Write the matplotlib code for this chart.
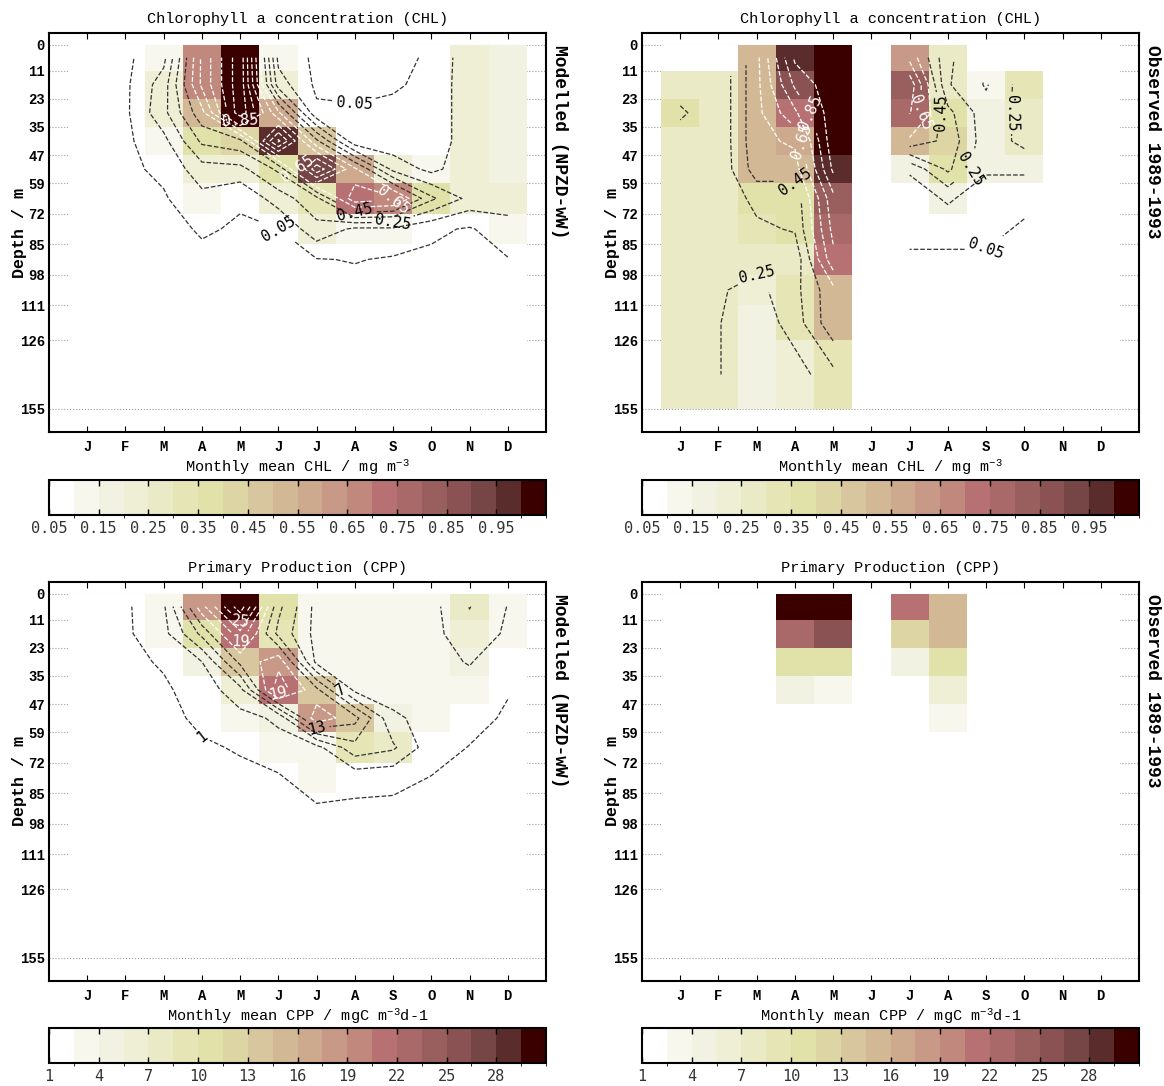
import numpy as np
import matplotlib
matplotlib.use("Agg")
import matplotlib.pyplot as plt
from matplotlib.colors import ListedColormap, BoundaryNorm, to_hex

plt.rcParams["font.family"] = ["Liberation Mono", "DejaVu Sans Mono"]
plt.rcParams["mathtext.default"] = "regular"

months = ["J", "F", "M", "A", "M", "J", "J", "A", "S", "O", "N", "D"]
depth_edges = [0, 11, 23, 35, 47, 59, 72, 85, 98, 111, 126, 155]
nan = np.nan

# colour steps (white -> cream -> olive -> tan -> rose -> maroon)
palette = ["#FFFFFF", "#F7F7EE", "#F2F2E3", "#EFEFD6", "#EAEAC6", "#E6E5B6", "#E1E1AA",
           "#DDD6A4", "#D8C79E", "#D3B896", "#CDA98E", "#C79986", "#C1897E", "#B77172",
           "#A96969", "#995F5E", "#8A5252", "#764545", "#5A2C2C", "#3A0000"]

chl_levels = np.round(np.arange(0.05, 1.0501, 0.05), 2)
chl_ticks = [0.05, 0.15, 0.25, 0.35, 0.45, 0.55, 0.65, 0.75, 0.85, 0.95]
cpp_levels = np.arange(1, 31.01, 1.5)
cpp_ticks = [1, 4, 7, 10, 13, 16, 19, 22, 25, 28]

# rows = depth layers (0-11, 11-23, ... 126-155), columns = months J..D
chl_model = [
    [0.01, 0.03, 0.12, 0.67, 1.02, 0.12, 0.03, 0.03, 0.03, 0.06, 0.22, 0.18],
    [0.01, 0.03, 0.20, 0.67, 1.02, 0.20, 0.03, 0.03, 0.04, 0.07, 0.22, 0.18],
    [0.01, 0.03, 0.22, 0.52, 1.02, 0.57, 0.07, 0.06, 0.07, 0.07, 0.22, 0.18],
    [0.01, 0.03, 0.12, 0.37, 0.42, 0.97, 0.47, 0.08, 0.08, 0.07, 0.22, 0.18],
    [0.01, 0.03, 0.07, 0.21, 0.22, 0.37, 0.92, 0.57, 0.22, 0.12, 0.22, 0.18],
    [0.01, 0.02, 0.04, 0.12, 0.06, 0.20, 0.32, 0.72, 0.68, 0.37, 0.22, 0.20],
    [0.01, 0.02, 0.02, 0.06, 0.04, 0.05, 0.22, 0.13, 0.13, 0.07, 0.04, 0.11],
    [0.01, 0.02, 0.02, 0.03, 0.02, 0.03, 0.045, 0.055, 0.04, 0.03, 0.02, 0.045],
    [0.01, 0.02, 0.02, 0.02, 0.02, 0.02, 0.02, 0.02, 0.02, 0.02, 0.02, 0.02],
    [0.01, 0.02, 0.02, 0.02, 0.02, 0.02, 0.02, 0.02, 0.02, 0.02, 0.02, 0.02],
    [0.01, 0.02, 0.02, 0.02, 0.02, 0.02, 0.02, 0.02, 0.02, 0.02, 0.02, 0.02],
]

chl_obs = [
    [nan, nan, 0.52, 0.97, 1.02, nan, 0.62, 0.27, nan, nan, nan, nan],
    [0.29, 0.27, 0.52, 0.87, 1.02, nan, 0.82, 0.26, 0.14, 0.30, nan, nan],
    [0.37, 0.27, 0.52, 0.73, 1.02, nan, 0.76, 0.38, 0.19, 0.28, nan, nan],
    [0.29, 0.27, 0.52, 0.57, 1.02, nan, 0.52, 0.42, 0.19, 0.28, nan, nan],
    [0.29, 0.27, 0.50, 0.50, 0.97, nan, 0.17, 0.37, 0.17, 0.17, nan, nan],
    [0.29, 0.27, 0.38, 0.38, 0.82, nan, 0.07, 0.17, 0.07, 0.07, nan, nan],
    [0.29, 0.27, 0.33, 0.36, 0.78, nan, 0.07, 0.07, 0.07, 0.04, nan, nan],
    [0.29, 0.27, 0.28, 0.28, 0.72, nan, 0.04, 0.04, 0.04, 0.03, nan, nan],
    [0.29, 0.26, 0.22, 0.32, 0.52, nan, nan, nan, nan, nan, nan, nan],
    [0.29, 0.255, 0.18, 0.30, 0.52, nan, nan, nan, nan, nan, nan, nan],
    [0.29, 0.255, 0.18, 0.20, 0.32, nan, nan, nan, nan, nan, nan, nan],
]

cpp_model = [
    [0.1, 0.5, 3.5, 18.0, 30.0, 10.8, 3.0, 3.0, 3.0, 3.0, 7.1, 3.9],
    [0.1, 0.5, 3.0, 10.8, 21.0, 9.2, 3.0, 3.0, 3.0, 3.0, 6.0, 3.5],
    [0.1, 0.3, 1.3, 4.0, 13.8, 18.0, 3.2, 3.0, 3.0, 3.0, 4.2, 2.0],
    [0.1, 0.2, 0.6, 2.2, 6.0, 21.0, 13.8, 3.3, 2.8, 2.8, 2.8, 1.2],
    [0.1, 0.1, 0.3, 1.5, 3.0, 4.5, 18.0, 14.0, 4.5, 3.0, 2.0, 0.6],
    [0.1, 0.1, 0.2, 0.7, 1.2, 3.0, 3.0, 9.0, 7.5, 2.2, 0.9, 0.3],
    [0.1, 0.1, 0.1, 0.3, 0.5, 0.6, 3.0, 2.0, 1.8, 0.9, 0.4, 0.1],
    [0.1, 0.1, 0.1, 0.1, 0.2, 0.3, 0.6, 0.5, 0.4, 0.3, 0.2, 0.1],
    [0.1, 0.1, 0.1, 0.1, 0.1, 0.1, 0.1, 0.1, 0.1, 0.1, 0.1, 0.1],
    [0.1, 0.1, 0.1, 0.1, 0.1, 0.1, 0.1, 0.1, 0.1, 0.1, 0.1, 0.1],
    [0.1, 0.1, 0.1, 0.1, 0.1, 0.1, 0.1, 0.1, 0.1, 0.1, 0.1, 0.1],
]

cpp_obs = [
    [nan, nan, nan, 30.0, 30.0, nan, 21.2, 15.2, nan, nan, nan, nan],
    [nan, nan, nan, 22.8, 25.8, nan, 12.2, 15.2, nan, nan, nan, nan],
    [nan, nan, nan, 10.8, 10.8, nan, 4.5, 10.8, nan, nan, nan, nan],
    [nan, nan, nan, 4.5, 3.2, nan, nan, 5.8, nan, nan, nan, nan],
    [nan, nan, nan, nan, nan, nan, nan, 3.2, nan, nan, nan, nan],
    [nan] * 12, [nan] * 12, [nan] * 12, [nan] * 12, [nan] * 12, [nan] * 12,
]

cmap = ListedColormap(palette)
cmap.set_under("white")
cmap.set_bad("white")

month_edges = np.arange(0.5, 13.0, 1.0)
month_mid = np.arange(1, 13)
depth_mid = 0.5 * (np.array(depth_edges[:-1]) + np.array(depth_edges[1:]))


def panel(ax, cax, data, levels, ticks, fmt, title, xlabel, side, draw_contours=True):
    norm = BoundaryNorm(levels, cmap.N)
    z = np.ma.masked_invalid(np.array(data, dtype=float))
    mesh = ax.pcolormesh(month_edges, depth_edges, z, cmap=cmap, norm=norm)

    if draw_contours:
        clev = levels[::2]
        half = levels[0] + 0.5 * (levels[-1] - levels[0])
        cols = ["white" if lv >= half - 1e-9 else "#333333" for lv in clev]
        cs = ax.contour(month_mid, depth_mid, z, levels=clev, colors=cols,
                        linestyles="--", linewidths=0.9)
        labs = ax.clabel(cs, levels=clev[::2], fmt=fmt, fontsize=11, inline=True)
        for t in labs:
            t.set_fontfamily("DejaVu Sans Mono")
            if to_hex(t.get_color()) != "#ffffff":
                t.set_color("black")

    ax.set_xlim(0, 13)
    ax.set_ylim(165, -5)
    ax.set_xticks(month_mid)
    ax.set_xticklabels(months, fontweight="bold", fontsize=10)
    ax.set_yticks(depth_edges)
    ax.set_yticklabels([str(d) for d in depth_edges], fontweight="bold", fontsize=10)
    ax.tick_params(axis="x", direction="in", top=True, length=4, pad=6)
    ax.tick_params(axis="y", length=0, pad=3)
    ax.set_axisbelow(True)
    ax.yaxis.grid(True, linestyle=":", color="#999999", linewidth=0.8)
    for s in ax.spines.values():
        s.set_linewidth(1.5)

    ax.set_title(title, fontsize=11, pad=7)
    ax.set_xlabel(xlabel, fontsize=11, labelpad=2)
    ax.set_ylabel("Depth / m", fontsize=12, fontweight="bold")
    ax.yaxis.set_label_coords(-0.045, 0.5)
    ax.text(1.01, 0.97, side, transform=ax.transAxes, rotation=270,
            ha="left", va="top", fontsize=13, fontweight="bold")

    cb = plt.colorbar(mesh, cax=cax, orientation="horizontal", ticks=ticks)
    cb.outline.set_linewidth(1.5)
    cax.tick_params(direction="in", top=True, bottom=True, length=4, width=1, pad=4)
    for t in cax.get_xticklabels():
        t.set_fontfamily("DejaVu Sans Mono")
        t.set_fontsize(11)
        t.set_color("#333333")
    return mesh


fig = plt.figure(figsize=(11.64, 10.86), dpi=100)
W, H = 1164.0, 1086.0


def box(x0, y0, x1, y1):
    return [x0 / W, 1 - y1 / H, (x1 - x0) / W, (y1 - y0) / H]


ax1 = fig.add_axes(box(49, 33, 546, 432))
cax1 = fig.add_axes(box(49, 480, 546, 515))
ax2 = fig.add_axes(box(642, 33, 1139, 432))
cax2 = fig.add_axes(box(642, 480, 1139, 515))
ax3 = fig.add_axes(box(49, 582, 546, 981))
cax3 = fig.add_axes(box(49, 1028, 546, 1063))
ax4 = fig.add_axes(box(642, 582, 1139, 981))
cax4 = fig.add_axes(box(642, 1028, 1139, 1063))

chl_title = "Chlorophyll a concentration (CHL)"
chl_xlab = "Monthly mean CHL / mg m$^{-3}$"
cpp_title = "Primary Production (CPP)"
cpp_xlab = "Monthly mean CPP / mgC m$^{-3}$d-1"

panel(ax1, cax1, chl_model, chl_levels, chl_ticks, "%.2f", chl_title, chl_xlab, "Modelled (NPZD-wW)")
panel(ax2, cax2, chl_obs, chl_levels, chl_ticks, "%.2f", chl_title, chl_xlab, "Observed 1989-1993")
panel(ax3, cax3, cpp_model, cpp_levels, cpp_ticks, "%d", cpp_title, cpp_xlab, "Modelled (NPZD-wW)")
panel(ax4, cax4, cpp_obs, cpp_levels, cpp_ticks, "%d", cpp_title, cpp_xlab, "Observed 1989-1993",
      draw_contours=False)

fig.savefig("out.png", dpi=100)
